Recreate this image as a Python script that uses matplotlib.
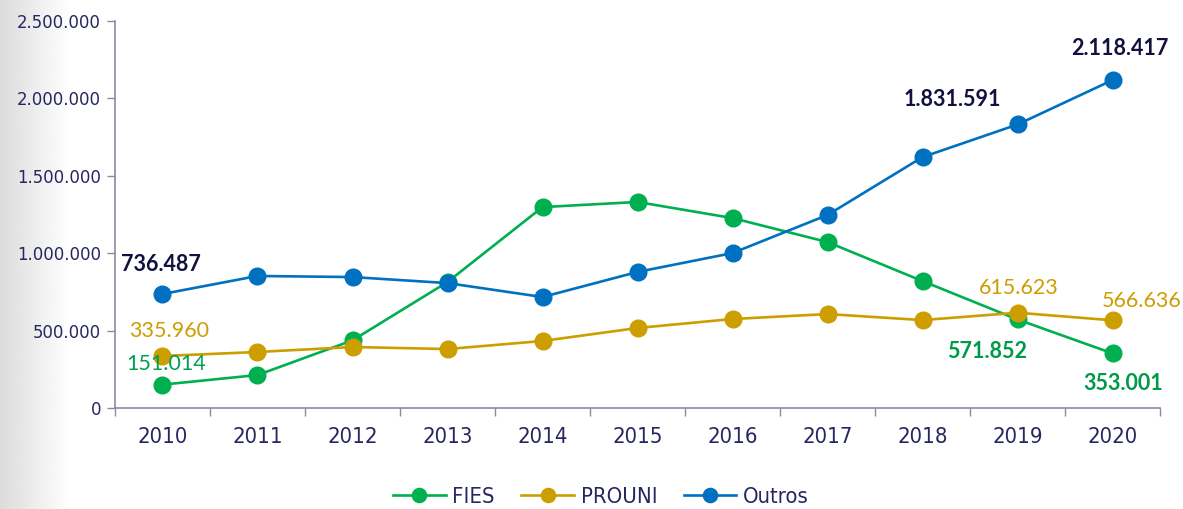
import matplotlib
matplotlib.use("Agg")
import matplotlib.pyplot as plt
from matplotlib import font_manager as fm
import numpy as np
from matplotlib.ticker import FuncFormatter, FixedLocator

years = ["2010", "2011", "2012", "2013", "2014", "2015", "2016", "2017", "2018", "2019", "2020"]
fies = [151014, 213000, 437000, 814000, 1298000, 1331000, 1227000, 1072000, 820000, 571852, 353001]
prouni = [335960, 362000, 394000, 381000, 433000, 517000, 575000, 607000, 568000, 615623, 566636]
outros = [736487, 853000, 846000, 807000, 717000, 879000, 1001000, 1247000, 1621000, 1831591, 2118417]

def fmt(v):
    return f"{int(round(v)):,}".replace(",", ".")

GREEN = "#00B050"
GOLD = "#CC9E00"
BLUE = "#0070C0"
NAVY = "#111140"
TICKC = "#262660"
SPINE = "#8a8aa0"

names = {(f.name, f.stretch) for f in fm.fontManager.ttflist}
fnames = {f.name for f in fm.fontManager.ttflist}
if "Liberation Sans Narrow" in fnames:
    NF = dict(family=["Liberation Sans Narrow", "DejaVu Sans"])
    scale = 1.0
elif any(n == "DejaVu Sans" and s in ("condensed", "semi-condensed", 600, 700) for n, s in names):
    NF = dict(family=["DejaVu Sans"], stretch="condensed")
    scale = 0.88
else:
    NF = dict(family=["Roboto", "DejaVu Sans"])
    scale = 0.84

lab = ["Lato", "DejaVu Sans"]

fig = plt.figure(figsize=(11.83, 5.09), dpi=100)

# background gradient on the left
bg = fig.add_axes([0, 0, 1, 1], zorder=-10)
xs = np.arange(1183)
g = np.clip(xs / 70.0, 0, 1)
col = 0.86 + (1.0 - 0.86) * g
img = np.tile(col, (10, 1))
bg.imshow(img, cmap="gray", vmin=0, vmax=1, aspect="auto", extent=[0, 1, 0, 1])
bg.axis("off")

ax = fig.add_axes([0.0972, 0.1984, 0.8834, 0.7603])
ax.patch.set_alpha(0)
x = np.arange(len(years))

ax.plot(x, fies, color=GREEN, lw=1.9, marker="o", ms=12, label="FIES", zorder=3)
ax.plot(x, prouni, color=GOLD, lw=1.9, marker="o", ms=12, label="PROUNI", zorder=4)
ax.plot(x, outros, color=BLUE, lw=1.9, marker="o", ms=12, label="Outros", zorder=5)

ax.set_xlim(-0.5, len(years) - 0.5)
ax.set_ylim(0, 2500000)
ax.yaxis.set_major_locator(FixedLocator([0, 500000, 1000000, 1500000, 2000000, 2500000]))
ax.yaxis.set_major_formatter(FuncFormatter(lambda v, p: fmt(v)))
ax.set_xticks(x)
ax.set_xticklabels(years)
ax.set_xticks(np.arange(-0.5, len(years), 1.0), minor=True)
ax.tick_params(axis="x", which="major", length=0, pad=14, labelsize=18 * scale, labelcolor=TICKC)
ax.tick_params(axis="x", which="minor", length=6, width=1, color=SPINE, direction="out")
ax.tick_params(axis="y", length=6, width=1, color=SPINE, labelsize=15 * scale, labelcolor=TICKC, pad=4)
for t in ax.get_xticklabels() + ax.get_yticklabels():
    t.set_family(NF["family"])
    if "stretch" in NF:
        t.set_stretch(NF["stretch"])

for s in ["top", "right"]:
    ax.spines[s].set_visible(False)
for s in ["left", "bottom"]:
    ax.spines[s].set_color(SPINE)
    ax.spines[s].set_linewidth(1.2)

def ann(i, series, dx, dy, color, bold):
    ax.annotate(fmt(series[i]), (x[i], series[i]), xytext=(dx, dy), textcoords="offset points",
                ha="center", va="center", fontsize=15.5, color=color,
                fontweight="bold" if bold else "normal", family=lab, zorder=6)

ann(0, outros, -1.4, 21, NAVY, True)
ann(0, prouni, 5, 18, GOLD, False)
ann(0, fies, 3, 15, "#00A050", False)
ann(9, outros, -47, 18, NAVY, True)
ann(10, outros, 5, 23, NAVY, True)
ann(9, prouni, 0.7, 18, GOLD, False)
ann(10, prouni, 21, 14, GOLD, False)
ann(9, fies, -22, -23, "#009A48", True)
ann(10, fies, 8, -22, "#009A48", True)

lp = fm.FontProperties(family=NF["family"], size=18 * scale, stretch=NF.get("stretch", "normal"))
leg = fig.legend(loc="center", bbox_to_anchor=(0.508, 0.024), ncol=3, frameon=False,
                 prop=lp, handlelength=2.4, columnspacing=1.2,
                 handletextpad=0.3, markerscale=0.85)
for t in leg.get_texts():
    t.set_color(TICKC)

fig.savefig("out.png", dpi=100)
